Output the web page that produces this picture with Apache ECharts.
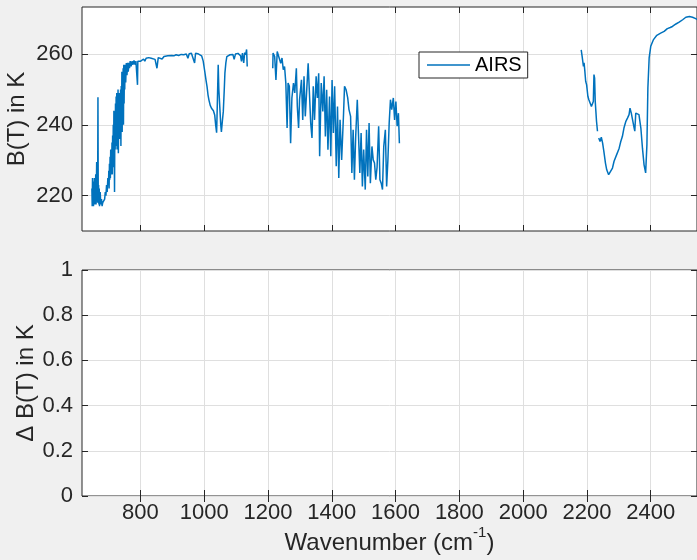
<!DOCTYPE html>
<html>
<head>
<meta charset="utf-8">
<script src="https://cdn.jsdelivr.net/npm/echarts@6/dist/echarts.min.js"></script>
<style>
  html, body { margin: 0; padding: 0; background: #f0f0f0; }
  #chart { width: 697px; height: 560px; }
</style>
</head>
<body>
<div id="chart"></div>
<script>
// AIRS brightness temperature, three channel blocks (wavenumber in cm-1, B(T) in K)
const seg1Wn = [648,649,650,651,652,653,654,655,656,657,658,659,660,661,662,663,664,665,666,667,
  668,669,670,671,672,674,676,678,680,682,684,686,688,690,692,694,696,698,
  700,701,702,703,704,705,706,707,708,709,710,711,712,713,714,715,716,717,718,719,
  720,721,722,723,724,725,726,727,728,729,730,731,732,733,734,735,736,737,738,739,
  740,741,742,743,744,745,746,747,748,749,750,751,752,
  754,756,758,760,762,764,766,768,771,774,777,780,783,786,789,791,792,795,
  798,801,806,810,814,818,822,826,830,834,840,846,852,856,862,868,874,880,886,892,
  898,905,912,920,928,936,944,949,953,960,966,970,973,980,986,992,997,1002,1006,1009,
  1012,1015,1019,1023,1026,1029,1033,1036,1039,1041,1044,1046,1049,1052,1054,1057,1060,1063,1065,1068,
  1071,1076,1081,1086,1090,1094,1098,1102,1106,1110,1114,1117,1120,1124,1127,1130,1133,1135];
const seg1Bt = [222,217,225,218,224,217,222,219,225,217.5,223,218,226,217.5,222,229.5,219,226,218,247.8,
  218,223,217.5,222,217,221,217.5,219,217,218,217.5,218.5,219,221,220,223,221,225,
  223,227,222,229,224.5,231,225,233,226,232,227,235,226,237,228,240,230,244,233,221,
  240,233,246,234,248,236,249,233,247,236,250,232,246,237,249,236,248,240,250,234,
  251,241,255,238,254,244,256,240,257,246,256,250,257,
  252,257.5,254,257.5,255,257.5,256,258,256.5,258,257,258.2,257,258,257.5,251.3,258,257.5,
  258.3,258,258.3,258.6,258,258.8,258.3,259,258.5,258.8,259,258.5,256,259,259.2,258.6,259.3,259,259.5,259.3,
  259.6,259.5,259.8,259.6,259.9,259.8,260,258.8,260.1,260.2,260.1,257.5,260.2,260.1,260,259.5,258,255,252.5,250.8,
  248.5,247,245.5,244.7,244.2,244,242.8,240,237.8,245,257,250,245,240,238,241,243.8,250,254.6,257.5,
  259.3,259.6,259.8,259.5,259.9,258.5,260,259.6,260.2,260,259.5,257.9,260.3,257.5,260.4,259.8,261.3,256.5];

const seg2Wn = [1215,1216,1221,1225,1229,1234,1240,1244,1248,1252,1256,1260,1263,1267,1271,1275,1280,1284,1289,1292,
  1296,1299,1305,1309,1313,1317,1321,1326,1330,1334,1338,1342,1346,1351,1355,1359,1362,1367,1372,1376,
  1380,1384,1388,1393,1397,1401,1405,1409,1414,1418,1422,1426,1431,1437,1440,1445,1450,1454,1459,1463,
  1467,1471,1475,1480,1484,1488,1492,1496,1500,1505,1509,1513,1517,1521,1526,1530,1534,1538,1542,1547,
  1551,1555,1559,1563,1568,1572,1576,1580,1584,1588,1593,1597,1601,1605,1609,1612];
const seg2Bt = [256,260.3,259.3,252.7,260.7,261.2,257.4,258.9,255.6,256.5,251.8,239.1,251.8,250.9,234.8,247.6,251.8,249,256,245.2,
  239.1,247.1,252.7,241.4,253.7,242.4,249,257.4,257,240.5,236.3,250.9,241.4,253.7,247.6,254.6,231.1,251.8,243.8,253.7,
  236.7,249.9,233,248,231.1,252.7,237.7,250.9,228.3,245.2,225,241.4,230.1,243.3,250.9,249.9,247.6,244.3,242.4,226.4,
  238.6,224.5,236.7,247.1,247.6,226.4,237.7,222.6,233,221.7,238.6,225.4,240.5,223.5,233.9,230.1,229.2,224.5,228,239.6,
  224.5,223.5,221.7,233.9,238.6,222.6,230.1,240.5,247.1,244.3,247.6,241.4,246.6,239.6,243.3,234.8];

const seg3aWn = [2182,2185,2189,2191,2193,2196,2199,2203,2206,2209,2214,2217,2220,2222,2224,2226,2230,2233];
const seg3aBt = [261.2,259.3,256.5,257.5,255.6,252.3,251.3,248,247.1,247.6,245.2,245.7,246.6,254.2,253.2,246.6,241,238.2];

const seg3bWn = [2237,2241,2245,2249,2253,2258,2262,2268,2274,2280,2285,2290,2295,2301,2306,2311,2316,2322,2327,2332,
  2335,2339,2344,2348,2350,2353,2358,2363,2369,2374,2379,2384,2388,2391,2395,2400,2408,2419,2431,2442,
  2452,2461,2468,2479,2489,2500,2510,2521,2531,2541,2552];
const seg3bBt = [236.3,235.3,236.5,234.9,232.5,229.2,227.3,225.9,226.1,227.8,229.7,230.1,232,233.4,235.3,236.7,239.1,241,241.9,242.9,
  244.7,243.3,242.9,239.1,238.2,243.3,243.8,242.9,239.1,233.4,228.7,226.4,234.4,250.4,258.9,262.2,264,265.3,265.9,266.4,
  267.2,267.5,267.8,268.5,269,269.7,270.4,270.6,270.4,270,269.4];

const xTicks = [800, 1000, 1200, 1400, 1600, 1800, 2000, 2200, 2400];
const yTicksTop = [220, 240, 260];

const ink = '#262626';
const font = 'Liberation Sans, Arial, Helvetica, sans-serif';
const gridColor = '#dfdfdf';

// zip one block into [x, y] pairs
function pairs(wn, bt) {
  return wn.map((w, i) => [w, bt[i]]);
}
const gap = (w) => [[w, '-']];
const airs = [].concat(
  pairs(seg1Wn, seg1Bt), gap(1175),
  pairs(seg2Wn, seg2Bt), gap(1900),
  pairs(seg3aWn, seg3aBt), gap(2235),
  pairs(seg3bWn, seg3bBt)
);

const plain = (v) => String(v);
const tick = (vals) => ({ show: true, inside: true, length: 6, lineStyle: { color: ink, width: 1 }, customValues: vals });
const labelStyle = { color: ink, fontSize: 22, fontFamily: font, formatter: plain };

function xAxisPair(gridIndex, withLabels) {
  const bottom = {
    type: 'value', gridIndex, position: 'bottom', min: 617, max: 2545,
    axisLine: { show: false },
    axisTick: tick(xTicks),
    axisLabel: withLabels ? Object.assign({ customValues: xTicks, margin: 6 }, labelStyle) : { show: false },
    splitLine: { show: true, lineStyle: { color: gridColor, width: 1 } }
  };
  if (withLabels) {
    bottom.name = '{a|Wavenumber (cm}{s|-1}{a|)}';
    bottom.nameLocation = 'middle';
    bottom.nameGap = 28;
    bottom.nameTextStyle = {
      fontFamily: font, color: ink,
      rich: {
        a: { fontSize: 24, fontFamily: font, color: ink, lineHeight: 30, verticalAlign: 'bottom' },
        s: { fontSize: 15, fontFamily: font, color: ink, lineHeight: 30, verticalAlign: 'top' }
      }
    };
  }
  const top = {
    type: 'value', gridIndex, position: 'top', min: 617, max: 2545,
    axisLine: { show: false },
    axisTick: tick(xTicks),
    axisLabel: { show: false },
    splitLine: { show: false }
  };
  return [bottom, top];
}

const chart = echarts.init(document.getElementById('chart'), null, { renderer: 'canvas' });
chart.setOption({
  animation: false,
  backgroundColor: '#f0f0f0',
  grid: [
    { left: 82, right: 0, top: 7, height: 224, show: true, backgroundColor: '#fff', borderColor: ink, borderWidth: 1, containLabel: false, outerBoundsMode: 'none' },
    { left: 82, right: 0, top: 270, height: 226, show: true, backgroundColor: '#fff', borderColor: ink, borderWidth: 1, containLabel: false, outerBoundsMode: 'none' }
  ],
  legend: {
    data: ['AIRS'],
    left: 419, top: 52,
    padding: [3, 6, 3, 8],
    borderColor: ink, borderWidth: 1, borderRadius: 0,
    backgroundColor: '#fff',
    icon: 'rect',
    itemWidth: 43, itemHeight: 1.5,
    textStyle: { fontSize: 20, color: '#000', fontFamily: font, lineHeight: 20 }
  },
  xAxis: [].concat(xAxisPair(0, false), xAxisPair(1, true)),
  yAxis: [
    {
      type: 'value', gridIndex: 0, position: 'left', min: 210, max: 273.3,
      axisLine: { show: false },
      axisTick: tick(yTicksTop),
      axisLabel: Object.assign({ customValues: yTicksTop, margin: 9 }, labelStyle),
      splitLine: { show: true, lineStyle: { color: gridColor, width: 1 } },
      name: 'B(T) in K', nameLocation: 'middle', nameRotate: 90, nameGap: 53, nameMoveOverlap: false,
      nameTextStyle: { fontSize: 24, color: ink, fontFamily: font }
    },
    {
      type: 'value', gridIndex: 0, position: 'right', min: 210, max: 273.3,
      axisLine: { show: false }, axisTick: tick(yTicksTop),
      axisLabel: { show: false }, splitLine: { show: false }
    },
    {
      type: 'value', gridIndex: 1, position: 'left', min: 0, max: 1, interval: 0.2,
      axisLine: { show: false },
      axisTick: { show: true, inside: true, length: 6, lineStyle: { color: ink } },
      axisLabel: Object.assign({ margin: 9 }, labelStyle),
      splitLine: { show: true, lineStyle: { color: gridColor, width: 1 } },
      name: 'Δ B(T) in K', nameLocation: 'middle', nameRotate: 90, nameGap: 44, nameMoveOverlap: false,
      nameTextStyle: { fontSize: 24, color: ink, fontFamily: font }
    },
    {
      type: 'value', gridIndex: 1, position: 'right', min: 0, max: 1, interval: 0.2,
      axisLine: { show: false },
      axisTick: { show: true, inside: true, length: 6, lineStyle: { color: ink } },
      axisLabel: { show: false }, splitLine: { show: false }
    }
  ],
  series: [
    {
      name: 'AIRS',
      type: 'line',
      xAxisIndex: 0,
      yAxisIndex: 0,
      data: airs,
      symbol: 'none',
      connectNulls: false,
      color: '#0072bd',
      lineStyle: { color: '#0072bd', width: 1.5 }
    }
  ]
});
</script>
</body>
</html>
